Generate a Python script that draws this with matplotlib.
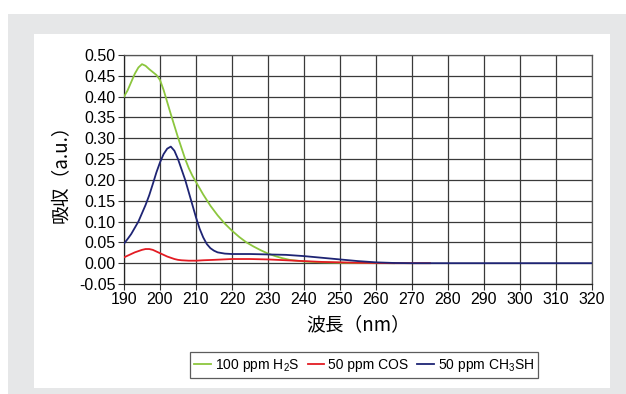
import matplotlib
matplotlib.use("Agg")
import matplotlib.pyplot as plt
from matplotlib.patches import Rectangle

# 波長 (nm) と吸収 (a.u.) — 図から読み取った値
h2s_nm = [190, 191, 192, 193, 194, 195, 196, 197, 198, 199, 200, 201, 202, 203, 204,
          205, 206, 207, 208, 209, 210, 212, 214, 216, 218, 220, 222, 224, 226, 228,
          230, 232, 234, 236, 238, 240, 242, 245, 250, 255, 260, 265]
h2s_abs = [0.400, 0.415, 0.435, 0.455, 0.470, 0.478, 0.474, 0.466, 0.459, 0.452, 0.440,
           0.416, 0.387, 0.358, 0.330, 0.302, 0.276, 0.250, 0.228, 0.210, 0.195, 0.165,
           0.138, 0.115, 0.095, 0.078, 0.063, 0.050, 0.040, 0.031, 0.023, 0.017, 0.012,
           0.008, 0.006, 0.004, 0.003, 0.002, 0.001, 0.0005, 0.0, 0.0]

cos_nm = [190, 191, 192, 193, 194, 195, 196, 197, 198, 199, 200, 201, 202, 203, 204,
          205, 206, 208, 210, 212, 215, 220, 225, 230, 235, 240, 245, 250, 255, 260,
          265, 270, 275]
cos_abs = [0.014, 0.018, 0.022, 0.026, 0.029, 0.032, 0.034, 0.034, 0.032, 0.028, 0.024,
           0.020, 0.016, 0.013, 0.010, 0.008, 0.007, 0.006, 0.006, 0.007, 0.008, 0.010,
           0.010, 0.009, 0.007, 0.005, 0.003, 0.002, 0.001, 0.0005, 0.0, 0.0, 0.0]

ch3sh_nm = [190, 191, 192, 193, 194, 195, 196, 197, 198, 199, 200, 201, 202, 203, 204,
            205, 206, 207, 208, 209, 210, 211, 212, 213, 214, 215, 216, 218, 220, 225,
            230, 235, 240, 245, 250, 255, 260, 265, 270, 280, 290, 300, 310, 320]
ch3sh_abs = [0.047, 0.058, 0.070, 0.085, 0.100, 0.120, 0.140, 0.163, 0.190, 0.218, 0.242,
             0.262, 0.275, 0.280, 0.270, 0.250, 0.225, 0.200, 0.170, 0.140, 0.110, 0.083,
             0.062, 0.046, 0.036, 0.030, 0.026, 0.023, 0.022, 0.022, 0.021, 0.020, 0.017,
             0.013, 0.009, 0.005, 0.002, 0.0005, 0.0, 0.0, 0.0, 0.0, 0.0, 0.0]

x_ticks = list(range(190, 321, 10))
y_ticks = [-0.05, 0.0, 0.05, 0.10, 0.15, 0.20, 0.25, 0.30, 0.35, 0.40, 0.45, 0.50]

plt.rcParams['font.family'] = ['Liberation Sans', 'Noto Sans CJK JP', 'DejaVu Sans']
plt.rcParams['mathtext.default'] = 'regular'
cjk = ['Noto Sans CJK JP', 'DejaVu Sans']

fig = plt.figure(figsize=(6.26, 3.94), dpi=100)
fig.patch.set_facecolor('white')
# 背景の灰色の枠と白いパネル
fig.patches.append(Rectangle((8 / 626, 0), 1, 380 / 394, transform=fig.transFigure,
                             facecolor='#e6e7e8', edgecolor='none', zorder=-2))
fig.patches.append(Rectangle((34 / 626, 6 / 394), 576 / 626, 354 / 394,
                             transform=fig.transFigure, facecolor='white',
                             edgecolor='none', zorder=-1))

ax = fig.add_axes([124 / 626, 1 - 284 / 394, 468 / 626, 229 / 394])
ax.set_facecolor('white')

ax.plot(h2s_nm, h2s_abs, color='#8cc63e', lw=1.3, label='100 ppm H$_2$S', zorder=3)
ax.plot(cos_nm, cos_abs, color='#e31b23', lw=1.3, label='50 ppm COS', zorder=4)
ax.plot(ch3sh_nm, ch3sh_abs, color='#1e2474', lw=1.3, label='50 ppm CH$_3$SH', zorder=5)

ax.set_xlim(190, 320)
ax.set_ylim(-0.05, 0.50)
ax.set_xticks(x_ticks)
ax.set_yticks(y_ticks)
ax.set_yticklabels(['%.2f' % v for v in y_ticks])
ax.tick_params(labelsize=11.5, length=4, width=0.8, color='#333333', pad=2)
ax.grid(True, color='#3a3a3a', lw=0.9)
ax.set_axisbelow(True)
for side in ['left', 'bottom']:
    ax.spines[side].set_color('#222222')
    ax.spines[side].set_linewidth(0.9)
for side in ['top', 'right']:
    ax.spines[side].set_color('#555555')
    ax.spines[side].set_linewidth(0.9)

ax.set_xlabel('波長（nm）', fontsize=13.5, family=cjk, labelpad=5)
ax.set_ylabel('吸収（a.u.）', fontsize=13.5, family=cjk, labelpad=6)

leg = fig.legend(loc='center', bbox_to_anchor=(364 / 626, 1 - 365 / 394), ncol=3,
                 fontsize=10, frameon=True, fancybox=False, handlelength=1.2,
                 handletextpad=0.3, columnspacing=0.6, borderpad=0.3,
                 borderaxespad=0)
leg.get_frame().set_edgecolor('#333333')
leg.get_frame().set_linewidth(0.9)

fig.savefig('out.png', dpi=100)
